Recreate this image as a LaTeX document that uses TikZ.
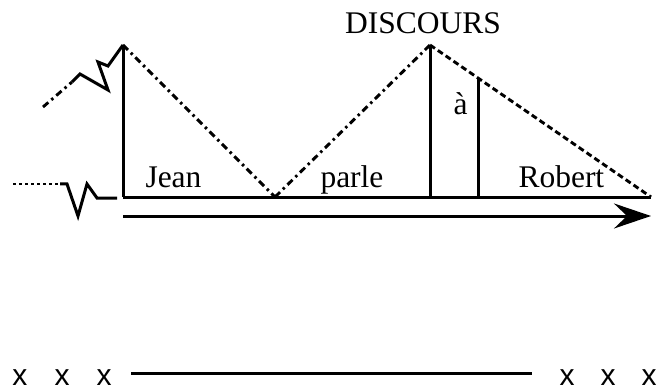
\documentclass[tikz,border=0pt]{standalone}
\usepackage{fontspec}
\setmainfont{Liberation Serif}
\newfontfamily\xsans{Liberation Sans}
\usetikzlibrary{arrows.meta}
\begin{document}
\begin{tikzpicture}[x=1pt,y=-1pt, line width=3pt,
  dashdotline/.style={line width=2.9pt, dash pattern=on 7pt off 4pt on 2.5pt off 4pt},
  dashline/.style={line width=2.9pt, dash pattern=on 6pt off 3.5pt},
  dotline/.style={line width=2.9pt, dash pattern=on 2.5pt off 3.5pt},
  lbl/.style={font=\fontsize{31.5}{31.5}\selectfont, inner sep=0pt, anchor=base west},
  xlbl/.style={font=\xsans\fontsize{30}{30}\selectfont, inner sep=0pt, anchor=base}]
\useasboundingbox (0,0) rectangle (658,390);
% key points
\coordinate (P1) at (123,45);
\coordinate (B1) at (123,197);
\coordinate (V) at (275,197);
\coordinate (P2) at (430,45);
\coordinate (B2) at (430,197);
\coordinate (Q) at (478,78);
\coordinate (B3) at (478,199);
\coordinate (E) at (651,197);
\coordinate (A0) at (123,216);
\coordinate (A1) at (651,216);
% left broken lines
\coordinate (L0) at (13,184);
\coordinate (L1) at (60,184);
\coordinate (U0) at (43,107);
\coordinate (U1) at (72,82);
% verticals and baseline
\draw (P1) -- (B1);
\draw (P2) -- (B2);
\draw (Q) -- (B3);
\draw (B1) -- (E);
% slopes
\draw[dashdotline] (P1) -- (V);
\draw[dashdotline] (V) -- (P2);
\draw[dashline] (P2) -- (E);
% arrow
\draw[-{Stealth[length=37pt,width=25pt,inset=13pt]}] (A0) -- (A1);
% left zigzags
\draw[dotline] (L0) -- (L1);
\draw[line join=miter] (L1) -- (67,184) -- (78,216) -- (87,184) -- (97,198) -- (117,198);
\draw[dashdotline] (U0) -- (U1);
\draw[line join=miter] (U1) -- (80,74) -- (108,90) -- (98,62) -- (108,66) -- (P1);
% labels
\node[font=\fontsize{31.5}{31.5}\selectfont, inner sep=0pt, anchor=base] (disc) at (423,34) {DISCOURS};
\node[lbl] (jean) at (144,187) {Jean};
\node[lbl] (parle) at (319,187) {parle};
\node[lbl] (a) at (452,115) {à};
\node[lbl] (robert) at (517,188) {Robert};
% bottom
\node[xlbl] (x1) at (20,385) {x};
\node[xlbl] (x2) at (62,385) {x};
\node[xlbl] (x3) at (104,385) {x};
\node[xlbl] (x4) at (567,385) {x};
\node[xlbl] (x5) at (608,385) {x};
\node[xlbl] (x6) at (649,385) {x};
\coordinate (H0) at (131,373);
\coordinate (H1) at (532,373);
\draw (H0) -- (H1);
\end{tikzpicture}
\end{document}
